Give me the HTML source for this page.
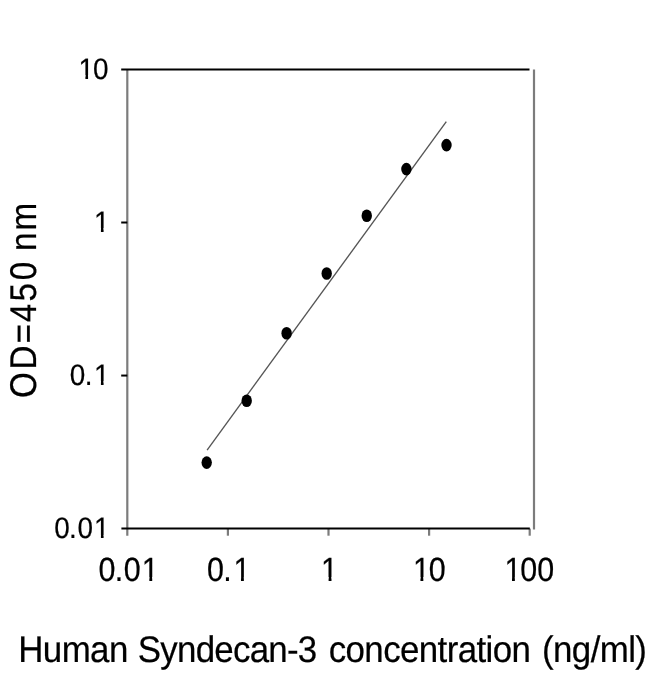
<!DOCTYPE html>
<html lang="en">
<head>
<meta charset="utf-8">
<title>Human Syndecan-3 standard curve</title>
<style>
html,body{margin:0;padding:0;background:#fff;}
body{width:650px;height:674px;overflow:hidden;font-family:"Liberation Sans",Arial,sans-serif;}
svg{display:block;}
text{font-family:"Liberation Sans",Arial,sans-serif;fill:#000;}
</style>
</head>
<body>
<svg width="650" height="674" viewBox="0 0 650 674">
<rect width="650" height="674" fill="#fff"/>
<g>
<!-- plot frame -->
<g fill="none">
<line x1="127.3" y1="69.46" x2="127.3" y2="535.7" stroke="#7c7c7c" stroke-width="2.2"/>
<line x1="534.0" y1="69.46" x2="534.0" y2="529.42" stroke="#7c7c7c" stroke-width="2.2"/>
<line x1="227.9" y1="528.62" x2="227.9" y2="535.7" stroke="#7c7c7c" stroke-width="2.2"/>
<line x1="328.5" y1="528.62" x2="328.5" y2="535.7" stroke="#7c7c7c" stroke-width="2.2"/>
<line x1="429.1" y1="528.62" x2="429.1" y2="535.7" stroke="#7c7c7c" stroke-width="2.2"/>
<line x1="529.7" y1="528.62" x2="529.7" y2="535.7" stroke="#7c7c7c" stroke-width="2.2"/>
<line x1="121.2" y1="69.46" x2="529.5" y2="69.46" stroke="#000" stroke-width="2.0"/>
<line x1="121.4" y1="528.62" x2="529.8" y2="528.62" stroke="#000" stroke-width="2.0"/>
<line x1="121.2" y1="222.51" x2="127.3" y2="222.51" stroke="#000" stroke-width="2.0"/>
<line x1="121.2" y1="375.55" x2="127.3" y2="375.55" stroke="#000" stroke-width="2.0"/>
<!-- fitted line -->
<line x1="207.1" y1="450.1" x2="446.3" y2="121.6" stroke="#555" stroke-width="1.35"/>
</g>
<!-- data points -->
<g fill="#000">
<ellipse cx="206.7" cy="462.60" rx="5.2" ry="6.3"/>
<ellipse cx="246.7" cy="400.70" rx="5.2" ry="6.3"/>
<ellipse cx="286.6" cy="333.30" rx="5.2" ry="6.3"/>
<ellipse cx="326.7" cy="273.50" rx="5.2" ry="6.3"/>
<ellipse cx="366.75" cy="215.75" rx="5.2" ry="6.3"/>
<ellipse cx="406.4" cy="169.10" rx="5.2" ry="6.3"/>
<ellipse cx="446.5" cy="145.10" rx="5.2" ry="6.3"/>
</g>
<!-- y tick labels -->
<g font-size="27.9" stroke="#000" stroke-width="0.2" style="text-rendering:geometricPrecision">
<text x="78.49 93.08" y="0" transform="translate(0,79.1) scale(1,1.058)">10</text>
<text x="94.00" y="0" transform="translate(0,232.15) scale(1,1.058)">1</text>
<text x="69.82 84.63 94.00" y="0" transform="translate(0,385.2) scale(1,1.058)">0.1</text>
<text x="54.30 69.12 77.57 94.00" y="0" transform="translate(0,538.25) scale(1,1.058)">0.01</text>
</g>
<!-- x tick labels -->
<g font-size="30.4" stroke="#000" stroke-width="0.2" style="text-rendering:geometricPrecision">
<text x="98.52 114.66 123.87 141.78" y="0" transform="translate(0,580.95) scale(1,1.1035)">0.01</text>
<text x="207.07 223.22 233.43" y="0" transform="translate(0,580.95) scale(1,1.1035)">0.1</text>
<text x="321.05" y="0" transform="translate(0,580.95) scale(1,1.1035)">1</text>
<text x="412.90 428.80" y="0" transform="translate(0,580.95) scale(1,1.1035)">10</text>
<text x="504.44 520.35 537.25" y="0" transform="translate(0,580.95) scale(1,1.1035)">100</text>
</g>
<!-- hide the foot serif of the digit one so it reads like the sans-serif original -->
<g fill="#fff"><rect x="79.21" y="75.00" width="6.19" height="6.00"/><rect x="88.07" y="75.00" width="5.37" height="6.00"/><rect x="94.73" y="228.00" width="6.19" height="6.00"/><rect x="103.58" y="228.00" width="6.37" height="6.00"/><rect x="94.73" y="381.00" width="6.19" height="6.00"/><rect x="103.58" y="381.00" width="6.37" height="6.00"/><rect x="94.73" y="535.00" width="6.19" height="5.00"/><rect x="103.58" y="535.00" width="6.37" height="5.00"/><rect x="142.70" y="577.00" width="6.63" height="6.00"/><rect x="152.21" y="577.00" width="6.79" height="6.00"/><rect x="234.34" y="577.00" width="6.63" height="6.00"/><rect x="243.86" y="577.00" width="6.79" height="6.00"/><rect x="321.97" y="577.00" width="6.63" height="6.00"/><rect x="331.48" y="577.00" width="6.79" height="6.00"/><rect x="413.81" y="577.00" width="6.63" height="6.00"/><rect x="423.33" y="577.00" width="5.79" height="6.00"/><rect x="505.36" y="577.00" width="6.63" height="6.00"/><rect x="514.87" y="577.00" width="5.79" height="6.00"/></g>
<!-- axis titles -->
<g stroke="#000" stroke-width="0.2" style="text-rendering:geometricPrecision">
<text font-size="34.9" letter-spacing="-0.6" transform="translate(0,661.9) scale(1,1.06)"><tspan x="18.24">Human</tspan> <tspan x="137.8" letter-spacing="-0.75">Syndecan-3</tspan> <tspan x="328.7">concentration</tspan> <tspan x="542.0">(ng/ml)</tspan></text>
<text font-size="33.2" letter-spacing="1.94" dx="0 0.6 0.3 -0.35 0.45 0.8 0 -2.3 0" transform="translate(36.0,397.9) rotate(-90) scale(1,1.12)">OD=450 nm</text>
</g>

</g>
</svg>
</body>
</html>
